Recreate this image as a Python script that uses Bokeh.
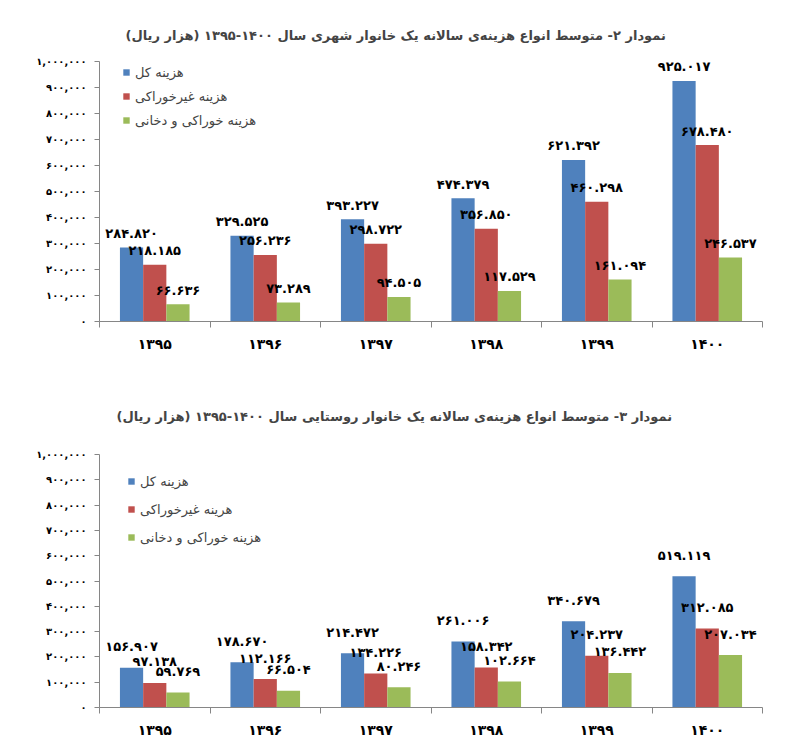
from bokeh.plotting import figure
from bokeh.layouts import column
from bokeh.models import ColumnDataSource, FixedTicker, Legend, LegendItem, Title
from bokeh.transform import dodge
from bokeh.core.properties import value
from bokeh.embed import file_html
from bokeh.resources import INLINE

# years and values (thousand rials)
years = ["1395", "1396", "1397", "1398", "1399", "1400"]

urban_total = [284820, 329525, 393227, 474379, 621392, 925017]
urban_nonfood = [218185, 256236, 298722, 356850, 460298, 678480]
urban_food = [66636, 73289, 94505, 117529, 161094, 246537]

rural_total = [156907, 178670, 214472, 261006, 340679, 519119]
rural_nonfood = [97138, 112166, 134226, 158342, 204237, 312085]
rural_food = [59769, 66504, 80246, 102664, 136442, 207034]

y_ticks = [0, 100000, 200000, 300000, 400000, 500000, 600000, 700000, 800000, 900000, 1000000]

title_urban = "نمودار ۲- متوسط انواع هزینه‌ی سالانه یک خانوار شهری سال ۱۴۰۰-۱۳۹۵ (هزار ریال)"
title_rural = "نمودار ۳- متوسط انواع  هزینه‌ی سالانه یک خانوار روستایی سال ۱۴۰۰-۱۳۹۵ (هزار ریال)"

names_urban = ["هزینه کل", "هزینه غیرخوراکی", "هزینه خوراکی و دخانی"]
names_rural = ["هزینه کل", "هرینه غیرخوراکی", "هزینه خوراکی و دخانی"]

colors = ["#4F81BD", "#C0504D", "#9BBB59"]
FONT = "DejaVu Sans"
RLM = "\u200f"

FA = str.maketrans("0123456789", "۰۱۲۳۴۵۶۷۸۹")


def fa(s):
    return str(s).translate(FA)


def make_chart(title, names, total, nonfood, food, w, h, borders, title_standoff,
               title_offset, legend_loc, legend_spacing, label_gap):
    left, right, top, bottom = borders
    idx = list(range(len(years)))
    src = ColumnDataSource(dict(
        idx=idx,
        total=total, nonfood=nonfood, food=food,
        total_lbl=[fa("{:,}".format(v)).replace(",", ".") for v in total],
        nonfood_lbl=[fa("{:,}".format(v)).replace(",", ".") for v in nonfood],
        food_lbl=[fa("{:,}".format(v)).replace(",", ".") for v in food],
    ))

    p = figure(width=w, height=h, x_range=(-0.5, len(years) - 0.5), y_range=(0, 1000000),
               output_backend="svg", toolbar_location=None,
               min_border_left=left, min_border_right=right,
               min_border_top=top, min_border_bottom=bottom)
    p.add_layout(Title(text=RLM + title + RLM, align="left", text_font=FONT,
                       text_font_size="13px", text_font_style="bold",
                       standoff=title_standoff, offset=title_offset), "above")
    p.outline_line_color = None
    p.xgrid.visible = False
    p.ygrid.visible = False

    offsets = [-0.21, 0.0, 0.21]
    fields = ["total", "nonfood", "food"]
    items = []
    for off, fld, col, name in zip(offsets, fields, colors, names):
        r = p.vbar(x=dodge("idx", off), top=fld, width=0.21, bottom=0, source=src,
                   fill_color=col, line_color=None)
        p.text(x=dodge("idx", off), y=fld, text=fld + "_lbl", source=src,
               text_align="center", text_baseline="middle", y_offset=-label_gap,
               text_font=value(FONT), text_font_size="13px", text_font_style="bold",
               text_color="black")
        items.append(LegendItem(label=RLM + name + RLM, renderers=[r]))

    legend = Legend(items=items, location=legend_loc, margin=0, padding=0,
                    spacing=legend_spacing, label_height=20, glyph_height=8,
                    glyph_width=8, label_standoff=5, label_text_font=FONT,
                    label_text_font_size="13px", background_fill_alpha=0,
                    border_line_color=None)
    p.add_layout(legend)

    # y axis
    p.yaxis.ticker = FixedTicker(ticks=y_ticks)
    p.yaxis.major_label_overrides = {t: fa("{:,}".format(t)) for t in y_ticks}
    p.yaxis.minor_tick_line_color = None
    p.yaxis.major_tick_in = 0
    p.yaxis.major_tick_out = 5
    p.yaxis.axis_line_color = "#868686"
    p.yaxis.major_tick_line_color = "#868686"
    p.yaxis.major_label_text_font = FONT
    p.yaxis.major_label_text_font_size = "10px"
    p.yaxis.major_label_text_font_style = "bold"
    p.yaxis.major_label_text_color = "black"
    p.yaxis.major_label_standoff = 8

    # x axis: labels at centres, ticks between groups
    p.xaxis.ticker = FixedTicker(ticks=idx, minor_ticks=[i - 0.5 for i in range(len(years) + 1)])
    p.xaxis.major_label_overrides = {i: fa(y) for i, y in zip(idx, years)}
    p.xaxis.major_tick_line_color = None
    p.xaxis.major_tick_in = 0
    p.xaxis.major_tick_out = 0
    p.xaxis.minor_tick_in = 0
    p.xaxis.minor_tick_out = 6
    p.xaxis.minor_tick_line_color = "#868686"
    p.xaxis.axis_line_color = "#868686"
    p.xaxis.major_label_text_font = FONT
    p.xaxis.major_label_text_font_size = "14px"
    p.xaxis.major_label_text_font_style = "bold"
    p.xaxis.major_label_text_color = "black"
    p.xaxis.major_label_standoff = 8
    return p


p1 = make_chart(title_urban, names_urban, urban_total, urban_nonfood, urban_food,
                784, 367, (82, 22, 61, 46), 38, 26, (23, 191), 4, 14)
p2 = make_chart(title_rural, names_rural, rural_total, rural_nonfood, rural_food,
                784, 374, (99, 15, 87, 34), 62, 17, (28, 160), 8, 21)

p = column(p1, p2, spacing=0)
open("out.html", "w").write(file_html(p, INLINE))
